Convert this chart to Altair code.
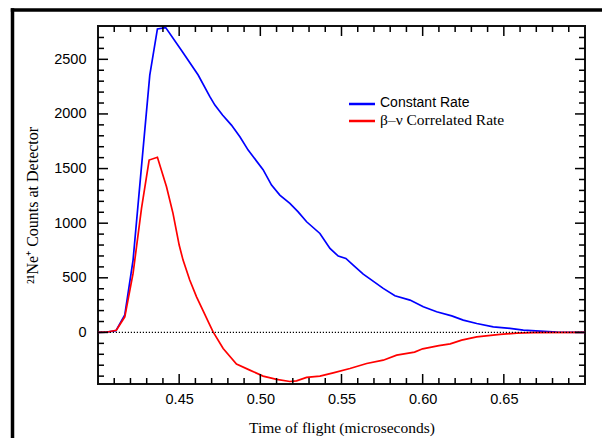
import altair as alt
import pandas as pd

# ---- data ----
time_const = [0.400, 0.405, 0.4110, 0.4165, 0.4216, 0.4268, 0.4319, 0.4366, 0.4417,
              0.4520, 0.4617, 0.4689, 0.4720, 0.4767, 0.4822, 0.4874, 0.4925, 0.5017,
              0.5069, 0.5120, 0.5182, 0.5233, 0.5285, 0.5367, 0.5429, 0.5480, 0.5527,
              0.5572, 0.5634, 0.5686, 0.5757, 0.5829, 0.5922, 0.6004, 0.6086, 0.6179,
              0.6250, 0.6333, 0.6435, 0.6538, 0.6620, 0.6723, 0.6826, 0.7000]
counts_const = [0, 3, 15, 160, 662, 1520, 2356, 2778, 2790,
                2570, 2356, 2158, 2081, 1990, 1898, 1791, 1669, 1490,
                1349, 1257, 1181, 1104, 1013, 906, 769, 699, 677,
                616, 534, 479, 403, 335, 296, 235, 189, 152,
                113, 82, 51, 37, 21, 12, 3, 0]

time_corr = [0.400, 0.405, 0.4113, 0.4165, 0.4216, 0.4268, 0.4315, 0.4366, 0.4422,
             0.4462, 0.4500, 0.4524, 0.4565, 0.4607, 0.4650, 0.4684, 0.4709, 0.4771,
             0.4853, 0.4935, 0.5017, 0.5100, 0.5182, 0.5223, 0.5285, 0.5367, 0.5449,
             0.5552, 0.5655, 0.5757, 0.5840, 0.5950, 0.6000, 0.6100, 0.6170, 0.6240,
             0.6333, 0.6477, 0.6580, 0.6680, 0.7000]
counts_corr = [0, 2, 20, 143, 540, 1135, 1578, 1603, 1333,
               1090, 800, 662, 480, 326, 190, 82, 5, -147,
               -290, -345, -400, -430, -449, -443, -412, -400, -370,
               -330, -284, -254, -208, -180, -150, -120, -105, -70,
               -40, -18, -6, -1, 0]

x_major = [0.45, 0.50, 0.55, 0.60, 0.65]
x_minor = [0.41, 0.42, 0.43, 0.44, 0.46, 0.47, 0.48, 0.49, 0.51, 0.52, 0.53, 0.54,
           0.56, 0.57, 0.58, 0.59, 0.61, 0.62, 0.63, 0.64, 0.66, 0.67, 0.68, 0.69]
y_major = [0, 500, 1000, 1500, 2000, 2500]
y_minor = [-400, -300, -200, -100, 100, 200, 300, 400, 600, 700, 800, 900,
           1100, 1200, 1300, 1400, 1600, 1700, 1800, 1900, 2100, 2200, 2300, 2400,
           2600, 2700]
zero_level = [0]

legend_labels = ["Constant Rate", "\u03b2\u2013\u03bd Correlated Rate"]

W, H = 487, 358
SANS = "Liberation Sans"
SERIF = "Liberation Serif"

xs = alt.Scale(domain=[0.4, 0.7], nice=False, zero=False)
ys = alt.Scale(domain=[-472, 2805], nice=False, zero=False)

df_const = pd.DataFrame({"t": time_const, "c": counts_const})
df_corr = pd.DataFrame({"t": time_corr, "c": counts_corr})

x_axis = alt.Axis(values=x_major, format=".2f", ticks=False, domain=False, grid=False,
                  labelFont=SANS, labelFontSize=14.5, labelColor="black", labelPadding=8,
                  title="Time of flight (microseconds)", titleFont=SERIF,
                  titleFontSize=15.5, titleFontWeight="normal", titleColor="black",
                  titleY=48.5, titleBaseline="alphabetic")
y_axis = alt.Axis(values=y_major, format="d", ticks=False, domain=False, grid=False,
                  labelFont=SANS, labelFontSize=14.5, labelColor="black", labelPadding=12,
                  title="\u00b2\u00b9Ne\u207a Counts at Detector", titleFont=SERIF,
                  titleFontSize=16, titleFontWeight="normal", titleColor="black",
                  titleX=-66, titleY=179, titleAngle=270, titleAlign="center",
                  titleBaseline="middle")

X = alt.X("t:Q", scale=xs, axis=x_axis)
Y = alt.Y("c:Q", scale=ys, axis=y_axis)

blue = alt.Chart(df_const).mark_line(color="#0000ff", strokeWidth=1.7).encode(x=X, y=Y)
red = alt.Chart(df_corr).mark_line(color="#ff0000", strokeWidth=1.7).encode(x=X, y=Y)

zero = alt.Chart(pd.DataFrame({"c": zero_level})).mark_rule(
    color="black", strokeDash=[1.2, 1.8], strokeWidth=1.3
).encode(y=Y)

def xticks(vals, length):
    d = pd.DataFrame({"t": vals})
    bot = alt.Chart(d).mark_rule(color="black", strokeWidth=1.5).encode(
        x=X, y=alt.value(H), y2=alt.value(H - length))
    top = alt.Chart(d).mark_rule(color="black", strokeWidth=1.5).encode(
        x=X, y=alt.value(0), y2=alt.value(length))
    return [bot, top]

def yticks(vals, length):
    d = pd.DataFrame({"c": vals})
    left = alt.Chart(d).mark_rule(color="black", strokeWidth=1.5).encode(
        y=Y, x=alt.value(0), x2=alt.value(length))
    right = alt.Chart(d).mark_rule(color="black", strokeWidth=1.5).encode(
        y=Y, x=alt.value(W), x2=alt.value(W - length))
    return [left, right]

ticks = xticks(x_major, 10) + xticks(x_minor, 6) + yticks(y_major, 10) + yticks(y_minor, 6)

one = pd.DataFrame({"k": [0]})
# legend (drawn by hand, two different fonts)
leg_blue = alt.Chart(one).mark_rule(color="#0000ff", strokeWidth=2.5).encode(
    x=alt.value(251), x2=alt.value(277), y=alt.value(78))
leg_red = alt.Chart(one).mark_rule(color="#ff0000", strokeWidth=2.5).encode(
    x=alt.value(251), x2=alt.value(277), y=alt.value(95))
leg_t1 = alt.Chart(one).mark_text(
    text=legend_labels[0], font=SANS, fontSize=14, align="left", baseline="middle", color="black"
).encode(x=alt.value(282), y=alt.value(77))
leg_t2 = alt.Chart(one).mark_text(
    text=legend_labels[1], font=SERIF, fontSize=15.5, align="left", baseline="middle", color="black"
).encode(x=alt.value(282), y=alt.value(94))

# outer frame (thick black lines at top and left)
frame_left = alt.Chart(one).mark_rule(color="black", strokeWidth=3.5).encode(
    x=alt.value(-85.5), y=alt.value(-17.8), y2=alt.value(430))
frame_top = alt.Chart(one).mark_rule(color="black", strokeWidth=3.5).encode(
    x=alt.value(-87.2), x2=alt.value(520), y=alt.value(-16))

chart = alt.layer(
    blue, red, zero, *ticks, leg_blue, leg_red, leg_t1, leg_t2, frame_left, frame_top
).properties(
    width=W, height=H,
    padding={"left": 90, "top": 18, "right": 17, "bottom": 54},
    autosize=alt.AutoSizeParams(type="none"),
    background="white",
).configure_view(stroke="#111", strokeWidth=2)

chart.save("out.html", embed_options={"renderer": "svg", "actions": False})
